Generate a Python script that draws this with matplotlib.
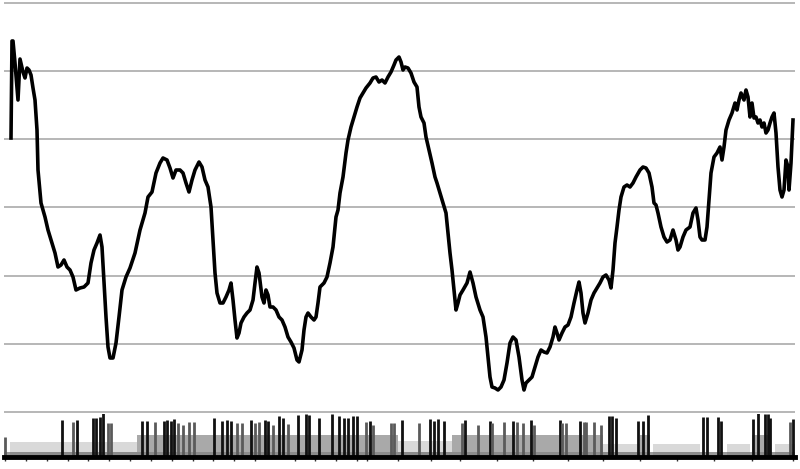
import matplotlib
matplotlib.use("Agg")
import matplotlib.pyplot as plt
import numpy as np

# price line (trading day, index level)
days = [0, 1, 2, 4, 7, 9, 12, 14, 16, 18, 20, 22, 24, 26, 27, 30, 34, 37, 41, 44,
        47, 50, 53, 56, 59, 62, 65, 69, 73, 77, 80, 83, 86, 89, 91, 93, 95, 97, 99, 102,
        105, 108, 111, 115, 119, 124, 129, 134, 137, 141, 145, 149, 152, 156, 159, 162, 165, 169, 172, 175,
        178, 181, 184, 188, 191, 194, 197, 200, 202, 204, 206, 209, 212, 215, 218, 220, 222, 224, 226, 228,
        230, 233, 236, 239, 242, 244, 246, 248, 251, 253, 255, 257, 259, 262, 265, 268, 271, 274, 277, 280,
        283, 286, 288, 291, 293, 295, 297, 300, 303, 305, 307, 309, 313, 316, 319, 322, 325, 327, 329, 332,
        335, 337, 340, 343, 346, 349, 352, 355, 359, 362, 365, 368, 371, 374, 377, 380, 383, 385, 388, 390,
        392, 394, 397, 400, 403, 406, 408, 410, 413, 415, 418, 421, 424, 426, 429, 432, 435, 437, 439, 441,
        443, 445, 447, 449, 452, 456, 459, 462, 465, 469, 472, 475, 477, 479, 481, 484, 487, 490, 493, 496,
        499, 502, 505, 508, 511, 513, 515, 518, 521, 524, 527, 530, 533, 536, 539, 542, 544, 546, 548, 551,
        554, 557, 560, 563, 566, 568, 570, 572, 574, 577, 580, 583, 586, 589, 592, 595, 598, 600, 602, 604,
        606, 608, 610, 613, 616, 619, 622, 625, 629, 632, 635, 638, 641, 643, 645, 647, 650, 653, 656, 659,
        662, 665, 667, 669, 672, 675, 679, 682, 685, 687, 689, 691, 694, 696, 698, 700, 703, 706, 709, 711,
        713, 715, 718, 721, 724, 726, 728, 730, 733, 735, 737, 739, 741, 743, 745, 747, 749, 751, 753, 755,
        757, 759, 761, 763, 765, 767, 769, 771, 773, 775, 777, 778, 780, 782]
level = [274, 371, 371, 349, 312, 353, 340, 334, 344, 342, 337, 324, 312, 282, 242, 209, 195, 182, 169, 159,
         145, 147, 152, 145, 142, 135, 122, 124, 125, 129, 149, 162, 169, 177, 165, 129, 95, 65, 54, 54,
         69, 95, 122, 135, 144, 159, 182, 199, 215, 220, 239, 249, 254, 252, 244, 234, 242, 242, 239, 229,
         220, 232, 242, 250, 245, 232, 225, 205, 172, 139, 119, 109, 109, 115, 122, 129, 112, 92, 74, 79,
         89, 95, 99, 102, 112, 129, 145, 139, 115, 109, 122, 117, 105, 105, 102, 95, 92, 85, 75, 70,
         64, 52, 50, 62, 82, 95, 99, 95, 92, 95, 109, 125, 129, 135, 149, 165, 195, 202, 219, 235,
         259, 272, 285, 295, 305, 314, 319, 324, 329, 334, 335, 330, 332, 329, 335, 340, 347, 352, 355, 350,
         342, 345, 344, 339, 330, 325, 305, 295, 289, 275, 262, 249, 235, 229, 219, 209, 199, 179, 159, 142,
         122, 102, 109, 117, 122, 129, 140, 129, 115, 102, 95, 75, 55, 35, 25, 24, 22, 25, 32, 49,
         69, 75, 72, 55, 32, 22, 29, 32, 35, 45, 55, 62, 60, 59, 65, 75, 85, 79, 72, 79,
         85, 87, 95, 109, 122, 130, 119, 99, 89, 99, 112, 119, 124, 129, 135, 137, 132, 124, 142, 169,
         185, 202, 215, 225, 227, 225, 229, 235, 242, 245, 244, 239, 225, 209, 207, 199, 185, 175, 170, 172,
         182, 172, 162, 165, 175, 182, 185, 199, 204, 192, 175, 172, 172, 185, 212, 239, 255, 259, 265, 252,
         265, 282, 292, 299, 309, 302, 312, 319, 312, 322, 315, 295, 309, 294, 295, 289, 292, 285, 289, 279,
         282, 289, 295, 299, 279, 245, 222, 215, 222, 252, 245, 222, 249, 292]

# volume spikes
spike_days = [-6, 51, 62, 66, 82, 85, 89, 92, 97, 100, 131, 136, 144, 153, 156, 160, 163, 167, 172, 178,
              183, 203, 211, 216, 220, 226, 231, 240, 244, 248, 254, 257, 262, 268, 272, 277, 287, 295, 298, 308,
              321, 328, 333, 337, 342, 346, 355, 359, 362, 380, 383, 391, 408, 419, 423, 427, 433, 451, 454, 467,
              479, 481, 493, 502, 506, 512, 520, 523, 549, 551, 555, 569, 573, 575, 583, 590, 598, 601, 605, 627,
              632, 637, 692, 696, 707, 710, 742, 747, 754, 757, 759, 779, 782]
spike_vol = [20, 37, 35, 37, 39, 39, 40, 44, 34, 34, 36, 36, 35, 36, 37, 36, 38, 34, 32, 35,
             35, 39, 36, 37, 36, 34, 34, 37, 34, 35, 37, 36, 32, 41, 39, 33, 42, 43, 42, 39,
             43, 41, 39, 39, 41, 41, 35, 36, 32, 34, 34, 37, 34, 38, 36, 38, 36, 34, 37, 32,
             36, 34, 35, 36, 35, 34, 37, 32, 37, 34, 34, 36, 35, 35, 35, 32, 41, 41, 39, 36,
             36, 42, 40, 40, 40, 36, 38, 44, 43, 43, 39, 35, 38]

# background volume bands
band_start = [-1, 126, 346, 387, 441, 592, 629, 642, 716, 741, 764]
band_end = [126, 346, 387, 441, 592, 629, 639, 689, 739, 759, 784]
band_vol = [15, 22, 22, 16, 22, 13, 22, 13, 13, 22, 13]

tick_days = [-6, 15, 36, 57, 77, 98, 119, 140, 161, 182, 202, 223, 244, 284, 304, 325, 346, 356, 387,
             420, 449, 486, 522, 557, 592, 629, 666, 703, 741, 782]

fig = plt.figure(figsize=(8.0, 4.69), dpi=100)

# main price panel
ax = fig.add_axes([4 / 800, 55 / 469, 791 / 800, 413 / 469])
ax.plot(days, level, color="black", linewidth=2.6, solid_joinstyle="round", zorder=3)
ax.set_xlim(-7, 784)
ax.set_ylim(-2, 411)
ax.set_yticks(np.linspace(0, 409, 7))
ax.set_xticks([])
ax.grid(axis="y", color="#a3a3a3", linewidth=1.1)
ax.tick_params(axis="y", length=0, labelleft=False)
for s in ax.spines.values():
    s.set_visible(False)

# volume panel
vx = fig.add_axes([4 / 800, 12 / 469, 791 / 800, 43 / 469])
vx.set_xlim(-7, 784)
vx.set_ylim(0, 43)
widths = np.array(band_end) - np.array(band_start)
band_colors = ["#a9a9a9" if v >= 20 else "#d9d9d9" for v in band_vol]
vx.bar(band_start, band_vol, width=widths, align="edge", color=band_colors, linewidth=0, zorder=0.5)
vx.bar(band_start, [5] * len(band_start), width=widths, align="edge", color="#8c8c8c", linewidth=0, zorder=1)
vx.bar(-7, 5, width=791, align="edge", color="#9a9a9a", linewidth=0, zorder=0.4)
spike_colors = ["#111111" if v >= 36 else "#5a5a5a" for v in spike_vol]
vx.vlines(spike_days, 0, spike_vol, colors=spike_colors, linewidth=2.0, zorder=2)
vx.set_xticks(tick_days)
vx.set_yticks([])
vx.tick_params(axis="x", direction="out", length=3, width=1, color="#333333", labelbottom=False)
for side in ["top", "left", "right"]:
    vx.spines[side].set_visible(False)
vx.spines["bottom"].set_linewidth(3.5)
vx.spines["bottom"].set_color("black")

fig.savefig("out.png", dpi=100)
